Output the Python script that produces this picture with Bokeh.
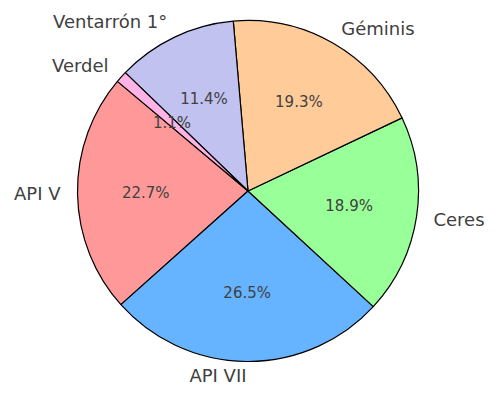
import math
from bokeh.plotting import figure
from bokeh.models import Range1d, ColumnDataSource
from bokeh.core.properties import value
from bokeh.embed import file_html
from bokeh.resources import INLINE

labels = ["API V", "API VII", "Ceres", "Géminis", "Ventarrón 1°", "Verdel"]
shares = [22.7, 26.5, 18.9, 19.3, 11.4, 1.1]
colors = ["#ff9999", "#66b3ff", "#99ff99", "#ffcc99", "#c2c2f0", "#ffb3e6"]
start_angle_deg = 140.0

total = sum(shares)
starts, ends, mids = [], [], []
a = math.radians(start_angle_deg)
for s in shares:
    span = 2 * math.pi * s / total
    starts.append(a)
    ends.append(a + span)
    mids.append(a + span / 2)
    a += span

src = ColumnDataSource(dict(start=starts, end=ends, color=colors))

# pixel geometry (figure pixels)
cx_px, cy_px, r_px = 247.5, 190.5, 170.5
W, H = 492, 386
x0 = (0 - cx_px) / r_px
x1 = (W - cx_px) / r_px
y1 = cy_px / r_px
y0 = (cy_px - H) / r_px

p = figure(width=W, height=H, output_backend="svg", toolbar_location=None,
           x_range=Range1d(x0, x1), y_range=Range1d(y0, y1),
           min_border=0, outline_line_color=None)
p.axis.visible = False
p.grid.visible = False
p.background_fill_color = "white"
p.border_fill_color = "white"

p.wedge(x=0, y=0, radius=1, start_angle="start", end_angle="end",
        fill_color="color", line_color="black", line_width=1.2, source=src)

# keep outer labels inside the canvas (half text height ~11px)
y_min_label = y0 + 11.5 / r_px

pt, px, py = [], [], []
left_src = dict(x=[], y=[], t=[])
right_src = dict(x=[], y=[], t=[])
for lab, s, m in zip(labels, shares, mids):
    x = 1.1 * math.cos(m)
    y = max(1.1 * math.sin(m), y_min_label)
    d = left_src if x > 0 else right_src
    d["x"].append(x); d["y"].append(y); d["t"].append(lab)
    px.append(0.6 * math.cos(m)); py.append(0.6 * math.sin(m)); pt.append(f"{s:.1f}%")

font = value("DejaVu Sans")
p.text(x="x", y="y", text="t", source=ColumnDataSource(left_src),
       text_align="left", text_baseline="middle", text_font=font,
       text_font_size="18px", text_color="#404040")
p.text(x="x", y="y", text="t", source=ColumnDataSource(right_src),
       text_align="right", text_baseline="middle", text_font=font,
       text_font_size="18px", text_color="#404040")
p.text(x=px, y=py, text=pt, text_align="center", text_baseline="middle",
       text_font=font, text_font_size="15px", text_color="#404040")

open("out.html", "w").write(file_html(p, INLINE))
